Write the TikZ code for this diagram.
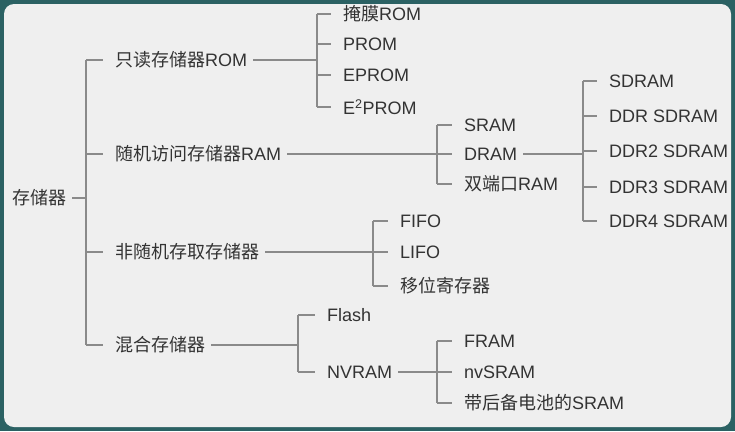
\documentclass[tikz,border=0pt]{standalone}
\usepackage{fontspec}
\setmainfont{Liberation Sans}
\newfontfamily\cjk{Noto Sans CJK SC}
\definecolor{frame}{HTML}{2B6163}
\definecolor{paper}{HTML}{EFEFEF}
\definecolor{ink}{HTML}{333333}
\definecolor{branch}{HTML}{8A8A8A}
\begin{document}
\begin{tikzpicture}[x=1pt,y=-1pt,
  item/.style={anchor=west,inner sep=0pt,text=ink,font=\fontsize{18}{21}\selectfont},
  link/.style={draw=branch,line width=1.1pt}]
	\fill[frame] (0,0) rectangle (735,431);
	\fill[paper,rounded corners=10pt] (4,4) rectangle (731,427);

	% level 0 and 1
	\node[item] (mem) at (12,198) {\cjk 存储器};
	\node[item] (rom) at (115,60) {{\cjk 只读存储器}ROM};
	\node[item] (ram) at (115,154) {{\cjk 随机访问存储器}RAM};
	\node[item] (seq) at (115,252) {\cjk 非随机存取存储器};
	\node[item] (mix) at (115,345) {\cjk 混合存储器};

	% ROM family
	\node[item] (mask) at (343,14) {{\cjk 掩膜}ROM};
	\node[item] (prom) at (343,44) {PROM};
	\node[item] (eprom) at (343,75) {EPROM};
	\node[item] (eeprom) at (343,107) {E\textsuperscript{2}PROM};

	% RAM family
	\node[item] (sram) at (464,125) {SRAM};
	\node[item] (dram) at (464,154) {DRAM};
	\node[item] (dual) at (464,184) {{\cjk 双端口}RAM};
	\node[item] (sd) at (609,81) {SDRAM};
	\node[item] (ddr) at (609,116) {DDR SDRAM};
	\node[item] (ddr2) at (609,151) {DDR2 SDRAM};
	\node[item] (ddr3) at (609,187) {DDR3 SDRAM};
	\node[item] (ddr4) at (609,221) {DDR4 SDRAM};

	% sequential
	\node[item] (fifo) at (400,221) {FIFO};
	\node[item] (lifo) at (400,252) {LIFO};
	\node[item] (shift) at (400,286) {\cjk 移位寄存器};

	% hybrid
	\node[item] (flash) at (327,315) {Flash};
	\node[item] (nvram) at (327,372) {NVRAM};
	\node[item] (fram) at (464,341) {FRAM};
	\node[item] (nvsram) at (464,372) {nvSRAM};
	\node[item] (batt) at (464,403) {{\cjk 带后备电池的}SRAM};

	% brackets
	\foreach \p/\x/\first/\last/\kids in {
	    mem/86/rom/mix/{rom,ram,seq,mix},
	    rom/317/mask/eeprom/{mask,prom,eprom,eeprom},
	    ram/437/sram/dual/{sram,dram,dual},
	    dram/583/sd/ddr4/{sd,ddr,ddr2,ddr3,ddr4},
	    seq/373/fifo/shift/{fifo,lifo,shift},
	    mix/298/flash/nvram/{flash,nvram},
	    nvram/437/fram/batt/{fram,nvsram,batt}}{
		\draw[link] ([xshift=6pt]\p.east) -- (\x,0 |- \p.west);
		\draw[link] (\x,0 |- \first.west) -- (\x,0 |- \last.west);
		\foreach \c in \kids
			\draw[link] (\x,0 |- \c.west) -- ([xshift=-12pt]\c.west);
	}
\end{tikzpicture}
\end{document}
